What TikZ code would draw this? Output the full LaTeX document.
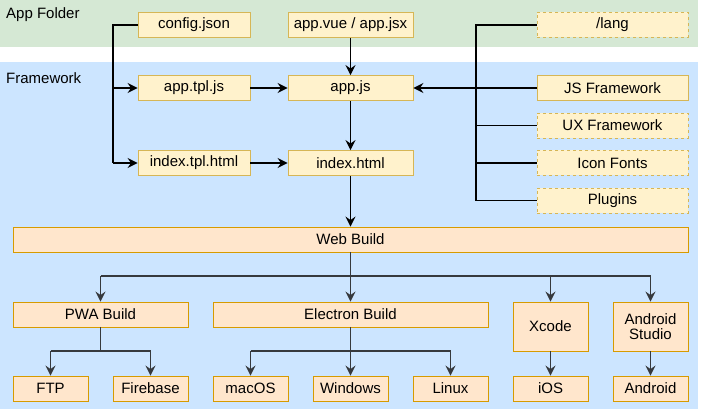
\documentclass[tikz,border=0pt]{standalone}
\usepackage{fontspec}
\setmainfont{Liberation Sans}
\usetikzlibrary{arrows.meta}
\definecolor{bggreen}{HTML}{D5E8D4}
\definecolor{bgblue}{HTML}{CCE5FF}
\definecolor{yfill}{HTML}{FFF2CC}
\definecolor{ydraw}{HTML}{D6B656}
\definecolor{ofill}{HTML}{FFE6CC}
\definecolor{odraw}{HTML}{D79B00}
\definecolor{dgray}{HTML}{36393D}
\tikzset{
  ybox/.style={draw=ydraw, fill=yfill, line width=0.9pt, rectangle, minimum height=25pt, inner sep=0pt, font=\fontsize{15}{16.5}\selectfont},
  ydash/.style={ybox, dash pattern=on 3pt off 3pt},
  obox/.style={draw=odraw, fill=ofill, line width=0.9pt, rectangle, minimum height=25pt, inner sep=0pt, font=\fontsize{15}{16.5}\selectfont, align=center},
  conn/.style={line width=1.1pt, black},
  arr/.style={conn, -{Stealth[length=10pt,width=10pt,inset=3.5pt]}},
  garr/.style={line width=1.1pt, dgray, -{Stealth[length=10pt,width=10pt,inset=3.5pt]}},
  gline/.style={line width=1.1pt, dgray},
  lbl/.style={anchor=west, inner sep=0pt, font=\fontsize{15}{16.5}\selectfont}
}
\begin{document}
\begin{tikzpicture}[x=1pt, y=-1pt]
\useasboundingbox (0,0) rectangle (702,409);
% backgrounds
\fill[bggreen] (0,0) rectangle (698,47);
\fill[bgblue] (0,62) rectangle (698,409);
\node[lbl] (lapp) at (6,15) {App Folder};
\node[lbl] (lfw) at (6,78) {Framework};
% top boxes
\node[ybox, minimum width=112pt] (cfg) at (194,25) {config.json};
\node[ybox, minimum width=125pt] (vue) at (350.5,25) {app.vue / app.jsx};
\node[ydash, minimum width=151pt] (lang) at (612.5,25) {/lang};
\node[ybox, minimum width=112pt] (tpljs) at (194,88) {app.tpl.js};
\node[ybox, minimum width=125pt] (appjs) at (350.5,88) {app.js};
\node[ybox, minimum width=151pt] (jsfw) at (612.5,88) {JS Framework};
\node[ydash, minimum width=151pt] (uxfw) at (612.5,125.5) {UX Framework};
\node[ydash, minimum width=151pt] (icon) at (612.5,163) {Icon Fonts};
\node[ydash, minimum width=151pt] (plug) at (612.5,200.5) {Plugins};
\node[ybox, minimum width=112pt] (tplhtml) at (194,163) {index.tpl.html};
\node[ybox, minimum width=125pt] (idx) at (350.5,163) {index.html};
% bottom boxes
\node[obox, minimum width=675pt] (web) at (350.5,239.5) {Web Build};
\node[obox, minimum width=175pt] (pwa) at (100.5,314.5) {PWA Build};
\node[obox, minimum width=275pt] (elec) at (350.5,314.5) {Electron Build};
\node[obox, minimum width=75pt, minimum height=49pt] (xcode) at (550.5,326.5) {Xcode};
\node[obox, minimum width=75pt, minimum height=49pt] (astudio) at (650.5,326.5) {Android\\[-1pt]Studio};
\node[obox, minimum width=75pt] (ftp) at (50.5,388.5) {FTP};
\node[obox, minimum width=75pt] (fire) at (150.5,388.5) {Firebase};
\node[obox, minimum width=75pt] (mac) at (250.5,388.5) {macOS};
\node[obox, minimum width=75pt] (win) at (350.5,388.5) {Windows};
\node[obox, minimum width=75pt] (lin) at (450.5,388.5) {Linux};
\node[obox, minimum width=75pt] (ios) at (550.5,388.5) {iOS};
\node[obox, minimum width=75pt] (andr) at (650.5,388.5) {Android};
% coordinates
\coordinate (lt) at (113,25);
\coordinate (rt) at (476,25);
% left trunk
\draw[conn] (cfg.west) -- (lt) -- (113,163);
\draw[arr] (113,88) -- (tpljs.west);
\draw[arr] (113,163) -- (tplhtml.west);
\draw[arr] (tpljs.east) -- (appjs.west);
\draw[arr] (tplhtml.east) -- (idx.west);
\draw[arr] (vue.south) -- (appjs.north);
\draw[arr] (appjs.south) -- (idx.north);
\draw[arr] (idx.south) -- (web.north);
% right trunk
\draw[conn] (lang.west) -- (rt) -- (476,200.5) -- (plug.west);
\draw[conn] (uxfw.west) -- (476,125.5);
\draw[conn] (icon.west) -- (476,163);
\draw[arr] (jsfw.west) -- (appjs.east);
% web build branches
\draw[gline] (web.south) -- (350.5,276);
\draw[gline] (100.5,276) -- (650.5,276);
\draw[garr] (100.5,276) -- (pwa.north);
\draw[garr] (350.5,276) -- (elec.north);
\draw[garr] (550.5,276) -- (xcode.north);
\draw[garr] (650.5,276) -- (astudio.north);
% PWA
\draw[gline] (pwa.south) -- (100.5,351);
\draw[gline] (50.5,351) -- (150.5,351);
\draw[garr] (50.5,351) -- (ftp.north);
\draw[garr] (150.5,351) -- (fire.north);
% Electron
\draw[gline] (elec.south) -- (350.5,351);
\draw[gline] (250.5,351) -- (450.5,351);
\draw[garr] (250.5,351) -- (mac.north);
\draw[garr] (350.5,351) -- (win.north);
\draw[garr] (450.5,351) -- (lin.north);
\draw[garr] (xcode.south) -- (ios.north);
\draw[garr] (astudio.south) -- (andr.north);
\end{tikzpicture}
\end{document}
